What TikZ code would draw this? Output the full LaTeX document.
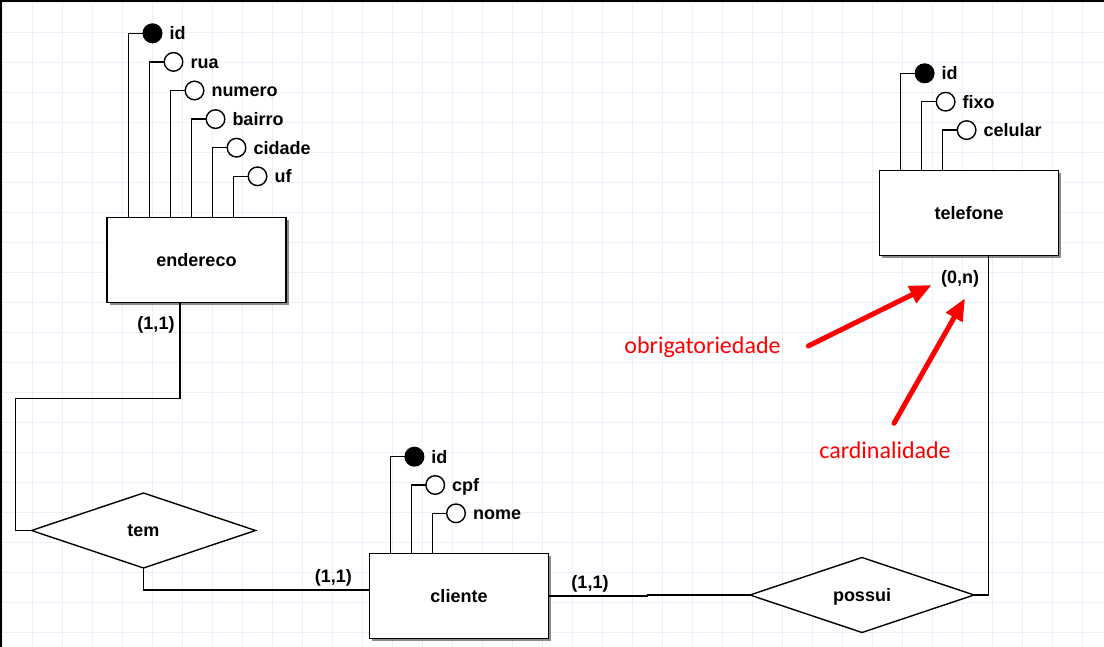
\documentclass[tikz,border=0pt]{standalone}
\usepackage{fontspec}
\setmainfont{Liberation Sans}
\newfontfamily\calfont{Carlito}
\usetikzlibrary{shapes.geometric,arrows.meta,calc,shadows}
\definecolor{gridblue}{RGB}{232,241,250}
\definecolor{notered}{RGB}{255,0,0}
\begin{document}
\begin{tikzpicture}[x=1pt,y=-1pt,
  gridline/.style={draw=gridblue,line width=1.2pt},
  frameline/.style={draw=black,line width=2pt},
  entity/.style={rectangle,draw=black,fill=white,line width=1.5pt,minimum width=179pt,minimum height=85pt,inner sep=0pt,outer sep=0pt,font=\bfseries\fontsize{18}{20}\selectfont,drop shadow={shadow xshift=2.5pt,shadow yshift=-2.5pt,fill=black!45,opacity=1}},
  rel/.style={diamond,draw=black,fill=white,line width=1.4pt,minimum width=224pt,minimum height=75pt,inner sep=0pt,outer sep=0pt,text depth=0pt,font=\bfseries\fontsize{18}{20}\selectfont},
  attr/.style={circle,draw=black,fill=white,line width=1.4pt,minimum size=18.6pt,inner sep=0pt,outer sep=0pt},
  key/.style={attr,fill=black},
  attrtxt/.style={font=\bfseries\fontsize{18}{20}\selectfont,inner sep=0pt,anchor=base west},
  card/.style={font=\bfseries\fontsize{18}{20}\selectfont,inner sep=0pt},
  link/.style={draw=black,line width=1.5pt},
  note/.style={font=\calfont\fontsize{24}{28}\selectfont,text=notered,inner sep=0pt},
  pointer/.style={draw=notered,line width=5pt,line cap=round,-{Triangle[length=22pt,width=18pt]}}
]
\useasboundingbox (0,0) rectangle (1104,647);
\fill[white] (0,0) rectangle (1104,647);
% grid
\foreach \i in {0,...,36} \draw[gridline] (2.7+30*\i,0) -- (2.7+30*\i,647);
\foreach \j in {0,...,21} \draw[gridline] (0,2.7+30*\j) -- (1104,2.7+30*\j);
% frame
\draw[frameline] (0,1) -- (1104,1);
\draw[frameline] (1,0) -- (1,647);

% entities
\node[entity] (endereco) at (196.5,259.8) {endereco};
\node[entity] (telefone) at (969.2,213.2) {telefone};
\node[entity] (cliente) at (459,596) {cliente};

% relationships
\node[rel] (tem) at (143.5,530.5) {tem};
\node[rel] (possui) at (862,595) {possui};

% endereco attributes
\foreach \i/\t/\s in {0/id/key,1/rua/attr,2/numero/attr,3/bairro/attr,4/cidade/attr,5/uf/attr}{
  \pgfmathsetmacro\vx{129+21*\i}
  \pgfmathsetmacro\cy{33.3+28.6*\i}
  \node[\s] (ea\i) at (\vx+23.5,\cy) {};
  \node[attrtxt] (eat\i) at ($(ea\i.east)+(7.5,6.5)$) {\t};
  \draw[link] (ea\i.west) -| ($(endereco.north west)+(\vx-107.3,0)$);
}
% telefone attributes
\foreach \i/\t/\s in {0/id/key,1/fixo/attr,2/celular/attr}{
  \pgfmathsetmacro\vx{900.3+21*\i}
  \pgfmathsetmacro\cy{73.3+28.4*\i}
  \node[\s] (ta\i) at (\vx+24.3,\cy) {};
  \node[attrtxt] (tat\i) at ($(ta\i.east)+(7.5,6.5)$) {\t};
  \draw[link] (ta\i.west) -| ($(telefone.north west)+(\vx-879.6,0)$);
}
% cliente attributes
\foreach \i/\t/\s in {0/id/key,1/cpf/attr,2/nome/attr}{
  \pgfmathsetmacro\vx{390.7+20.8*\i}
  \pgfmathsetmacro\cy{456.7+28.3*\i}
  \node[\s] (ca\i) at (\vx+23.7,\cy) {};
  \node[attrtxt] (cat\i) at ($(ca\i.east)+(7.5,6.5)$) {\t};
  \draw[link] (ca\i.west) -| ($(cliente.north west)+(\vx-369.5,0)$);
}

% connectors
\coordinate (k1) at (15.7,398.3);
\draw[link] ($(endereco.south west)+(73.2,0)$) |- (k1) |- (tem.west);
\draw[link] (tem.south) |- ($(cliente.west)+(0,-6)$);
\draw[link] (cliente.east) -- ++(99,0) |- (possui.west);
\draw[link] (possui.east) -| ($(telefone.south west)+(108.7,0)$);

% cardinalities
\node[card] (c1) at (156,325) {(1,1)};
\node[card] (c2) at (333.3,578.3) {(1,1)};
\node[card] (c3) at (590,584) {(1,1)};
\node[card] (c4) at (960,279) {(0,n)};

% notes
\node[note] (obrig) at (702.5,347.3) {obrigatoriedade};
\node[note] (card) at (885,450) {cardinalidade};
\coordinate (a1s) at (808.3,346);
\coordinate (a1e) at (931.7,285);
\coordinate (a2s) at (894,423.3);
\coordinate (a2e) at (965,298.3);
\draw[pointer] (a1s) -- (a1e);
\draw[pointer] (a2s) -- (a2e);
\end{tikzpicture}
\end{document}
